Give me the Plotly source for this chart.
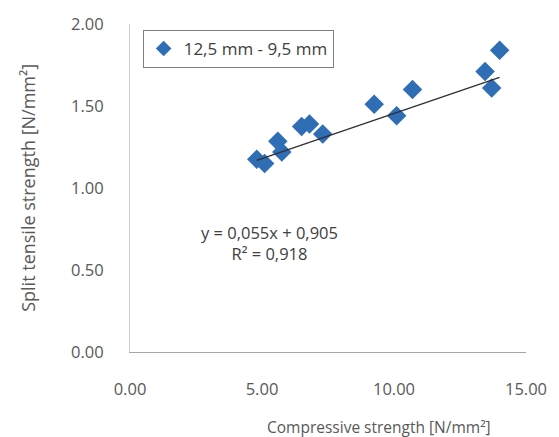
import plotly.graph_objects as go

# Data
compressive = [4.8, 5.1, 5.6, 5.75, 6.5, 6.8, 7.3, 9.25, 10.1, 10.7, 13.45, 13.7, 14.0]
split_tensile = [1.175, 1.15, 1.285, 1.22, 1.375, 1.39, 1.33, 1.51, 1.44, 1.60, 1.71, 1.61, 1.84]
series_name = "12,5 mm - 9,5 mm"
slope = 0.055
intercept = 0.905
equation_lines = ["y = 0,055x + 0,905", "R² = 0,918"]
x_ticks = [0, 5, 10, 15]
x_tick_labels = ["0.00", "5.00", "10.00", "15.00"]
y_ticks = [0, 0.5, 1.0, 1.5, 2.0]
y_tick_labels = ["0.00", "0.50", "1.00", "1.50", "2.00"]
x_title = "Compressive strength [N/mm²]"
y_title = "Split tensile strength [N/mm²]"

font_family = "Open Sans"
grey = "#595959"

fig = go.Figure()
fig.add_trace(go.Scatter(
    x=compressive, y=split_tensile, mode="markers", name=series_name,
    marker=dict(symbol="diamond", size=15, color="#2F6DB5"),
))
xmin, xmax = min(compressive), max(compressive)
fig.add_trace(go.Scatter(
    x=[xmin, xmax], y=[slope * xmin + intercept, slope * xmax + intercept],
    mode="lines", line=dict(color="#303030", width=1.3), showlegend=False,
))

fig.add_annotation(
    x=5.3, y=0.664, xref="x", yref="y", text="<br>".join(equation_lines),
    showarrow=False, align="center", font=dict(family=font_family, size=16.5, color="#404040"),
)
fig.add_annotation(
    x=0.63, y=-0.23, xref="paper", yref="paper", text=x_title, showarrow=False,
    xanchor="center", yanchor="middle", font=dict(family=font_family, size=15.5, color=grey),
)
fig.add_annotation(
    x=-0.258, y=0.5, xref="paper", yref="paper", text=y_title, showarrow=False,
    textangle=-90, xanchor="center", yanchor="middle",
    font=dict(family=font_family, size=18, color=grey),
)

fig.update_layout(
    width=559, height=437,
    margin=dict(l=130, r=32, t=22, b=85),
    plot_bgcolor="white", paper_bgcolor="white",
    font=dict(family=font_family, size=15, color=grey),
    showlegend=True,
    legend=dict(
        x=0.032, y=0.982, xanchor="left", yanchor="top",
        bordercolor="#7f7f7f", borderwidth=1, bgcolor="white",
        font=dict(family=font_family, size=17, color="#404040"),
        itemsizing="constant",
    ),
    xaxis=dict(
        range=[0, 15], tickvals=x_ticks, ticktext=x_tick_labels,
        showgrid=False, zeroline=False, showline=True, linecolor="#a6a6a6", linewidth=1,
        ticks="", ticklabelstandoff=22, tickfont=dict(size=16.5, color=grey),
    ),
    yaxis=dict(
        range=[0, 2.0], tickvals=y_ticks, ticktext=y_tick_labels,
        showgrid=False, zeroline=False, showline=True, linecolor="#d0d0d0", linewidth=1,
        ticks="", ticklabelstandoff=22, tickfont=dict(size=16.5, color=grey),
    ),
)

fig.write_html(
    "out.html",
    config={"displayModeBar": False},
    post_script="document.body.style.margin='0';document.body.style.overflow='hidden';",
)
